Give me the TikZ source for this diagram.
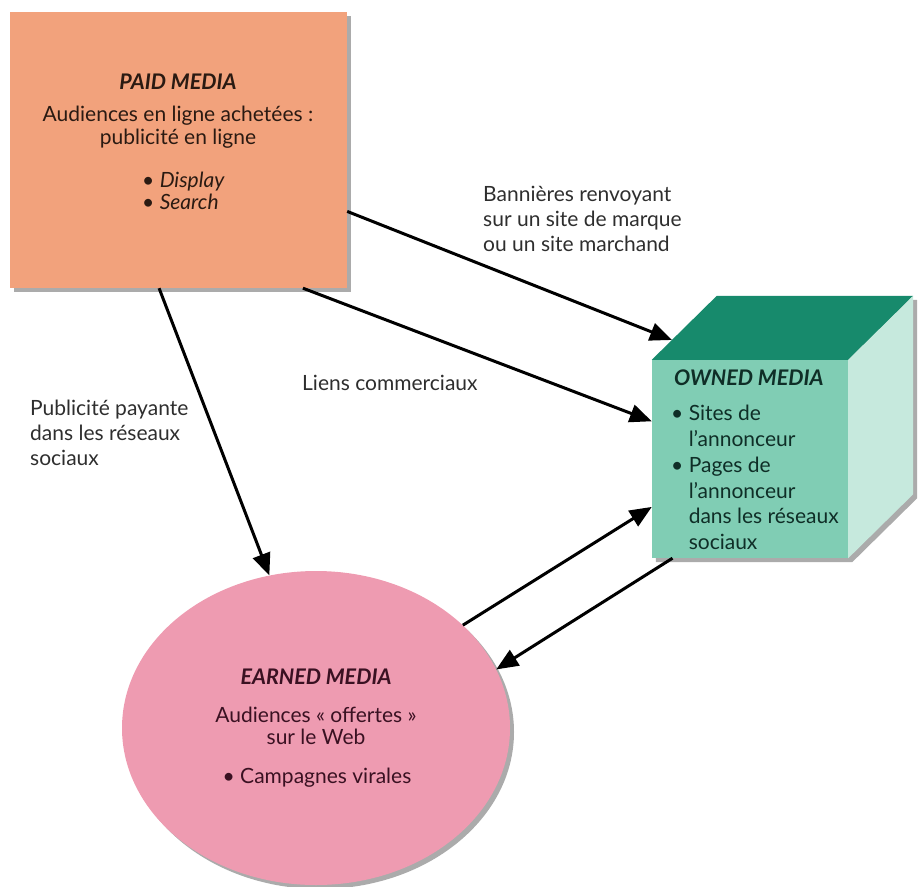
\documentclass[tikz,border=0pt]{standalone}
\usepackage{fontspec}
\setmainfont{Lato}
\usetikzlibrary{arrows.meta,shapes.geometric,shadows,calc}
\definecolor{paidc}{HTML}{F2A27C}
\definecolor{earnc}{HTML}{EE9BB1}
\definecolor{ownfront}{HTML}{80CDB4}
\definecolor{owntop}{HTML}{178A6C}
\definecolor{ownside}{HTML}{C6E9DD}
\definecolor{paidtxt}{HTML}{2A1A12}
\definecolor{owntxt}{HTML}{0F2E27}
\definecolor{earntxt}{HTML}{3A1122}
\definecolor{lbltxt}{HTML}{2E2E2E}
\begin{document}
\begin{tikzpicture}[x=1pt,y=-1pt,
  txt/.style={font=\fontsize{21}{22.5}\selectfont, inner sep=0pt},
  lbl/.style={font=\fontsize{21}{25}\selectfont, inner sep=0pt, text=lbltxt, anchor=west, align=left},
  ttl/.style={font=\fontsize{21.5}{22.5}\selectfont\bfseries\itshape, inner sep=0pt},
  conn/.style={line width=3pt, -{Triangle[length=22pt,width=18pt]}},
  shad/.style={drop shadow={shadow xshift=4pt,shadow yshift=-4pt,fill=black!60,opacity=0.55}}]
\useasboundingbox (0,0) rectangle (918,886);
% PAID
\node[shad, fill=paidc, minimum width=337pt, minimum height=276pt, inner sep=0pt] (paid) at (178.5,150) {};
\node[ttl, text=paidtxt] (paidT) at (178,82) {PAID MEDIA};
\node[txt, text=paidtxt, align=center] (paidA) at (178,127) {Audiences en ligne achetées :\\publicité en ligne};
\node[txt, text=paidtxt, align=left, anchor=west] (paidB) at (142,191) {• \textit{Display}\\• \textit{Search}};
% OWNED cube
\node[minimum width=196pt, minimum height=198pt, inner sep=0pt] (owned) at (750,459) {};
\coordinate (obtl) at ($(owned.north west)+(65,-64)$);
\coordinate (obtr) at ($(owned.north east)+(65,-64)$);
\coordinate (obbr) at ($(owned.south east)+(65,-64)$);
\fill[black!60, opacity=0.55] ([shift={(4,4)}]owned.south west) -- ([shift={(4,4)}]owned.north west) -- ([shift={(4,4)}]obtl) -- ([shift={(4,4)}]obtr) -- ([shift={(4,4)}]obbr) -- ([shift={(4,4)}]owned.south east) -- cycle;
\fill[ownfront] (owned.north west) rectangle (owned.south east);
\fill[owntop] (owned.north west) -- (obtl) -- (obtr) -- (owned.north east) -- cycle;
\fill[ownside] (owned.north east) -- (obtr) -- (obbr) -- (owned.south east) -- cycle;
\node[ttl, text=owntxt, anchor=west] (ownedT) at (674,378) {OWNED MEDIA};
\node[font=\fontsize{21}{25.7}\selectfont, inner sep=0pt, text=owntxt, align=left, anchor=west] (ownedB) at (671,477.5)
  {• Sites de\\\phantom{• }l’annonceur\\• Pages de\\\phantom{• }l’annonceur\\\phantom{• }dans les réseaux\\\phantom{• }sociaux};
% EARNED
\node[shad, ellipse, fill=earnc, minimum width=388pt, minimum height=314pt, inner sep=0pt] (earned) at (316,728) {};
\node[ttl, text=earntxt] (earnedT) at (316,677) {EARNED MEDIA};
\node[txt, text=earntxt, align=center] (earnedA) at (316,726) {Audiences « offertes »\\sur le Web};
\node[txt, text=earntxt] (earnedB) at (317,778) {• Campagnes virales};
% labels
\node[lbl] (lb1) at (483,219) {Bannières renvoyant\\sur un site de marque\\ou un site marchand};
\node[lbl] (lb2) at (302,383) {Liens commerciaux};
\node[lbl] (lb3) at (30,433) {Publicité payante\\dans les réseaux\\sociaux};
% connectors
\draw[conn] (paid.-20.5) -- ($(owned.north west)!0.31!(obtl)$);
\draw[conn] (paid.-48.6) -- (owned.159.8);
\draw[conn] (paid.-98.3) -- (earned.107.2);
\draw[conn] (earned.35.2) -- (owned.206);
\draw[conn] (owned.232.7) -- (earned.18);
\end{tikzpicture}
\end{document}
